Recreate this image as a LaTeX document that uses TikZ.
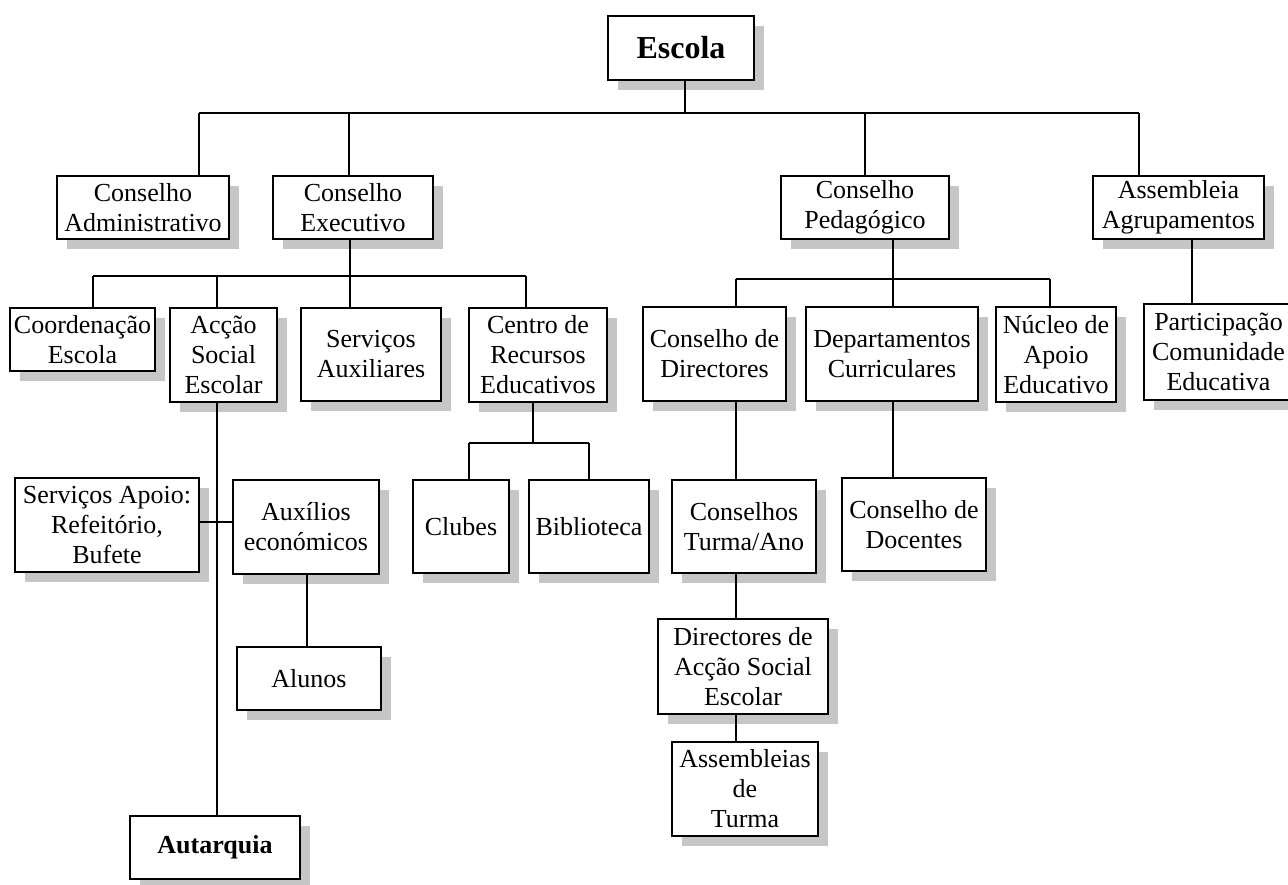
\documentclass[tikz,border=0pt]{standalone}
\usepackage{fontspec}
\setmainfont{Liberation Serif}
\usetikzlibrary{shadows}

\tikzset{
  orgbox/.style={draw, fill=white, line width=1.6pt, align=center, inner sep=0pt,
    font=\fontsize{26}{30}\selectfont,
    drop shadow={shadow xshift=10pt, shadow yshift=-10pt, fill=gray!45, opacity=1}},
  link/.style={line width=1.3pt}
}

\begin{document}
\begin{tikzpicture}[x=1pt, y=-1pt]
  \useasboundingbox (0,0) rectangle (1288,884);
  %the root of the chart
  \node[orgbox, minimum width=146pt, minimum height=64pt, font=\fontsize{32}{36}\selectfont\bfseries] (escola) at (681,48) {Escola};

  %first level: the four councils
  \node[orgbox, minimum width=172pt, minimum height=63pt] (ca) at (143,207.5) {Conselho\\Administrativo};
  \node[orgbox, minimum width=160pt, minimum height=63pt] (ce) at (353,207.5) {Conselho\\Executivo};
  \node[orgbox, minimum width=168pt, minimum height=63pt] (cp) at (865,207.5) {Conselho\\Pedag\'ogico};
  \node[orgbox, minimum width=171pt, minimum height=63pt] (aa) at (1178.5,207.5) {Assembleia\\Agrupamentos};

  %under the executive council
  \node[orgbox, minimum width=145pt, minimum height=63pt] (coord) at (82.5,339.5) {Coordena\c{c}\~ao\\Escola};
  \node[orgbox, minimum width=107pt, minimum height=94pt] (ase) at (223.5,355) {Ac\c{c}\~ao\\Social\\Escolar};
  \node[orgbox, minimum width=140pt, minimum height=93pt] (sa) at (371,354.5) {Servi\c{c}os\\Auxiliares};
  \node[orgbox, minimum width=138pt, minimum height=94pt] (cre) at (538,355) {Centro de\\Recursos\\Educativos};

  %under the pedagogic council
  \node[orgbox, minimum width=143pt, minimum height=94pt] (cd) at (714.5,354) {Conselho de\\Directores};
  \node[orgbox, minimum width=172pt, minimum height=94pt] (dc) at (892,354) {Departamentos\\Curriculares};
  \node[orgbox, minimum width=120pt, minimum height=95pt] (nae) at (1056,354.5) {N\'ucleo de\\Apoio\\Educativo};
  \node[orgbox, minimum width=149pt, minimum height=96pt] (pce) at (1218.5,352) {Participa\c{c}\~ao\\Comunidade\\Educativa};

  %school social action branch
  \node[orgbox, minimum width=184pt, minimum height=94pt] (sap) at (107,525) {Servi\c{c}os Apoio:\\Refeit\'orio,\\Bufete};
  \node[orgbox, minimum width=146pt, minimum height=94pt] (aux) at (306,527) {Aux\'ilios\\econ\'omicos};
  \node[orgbox, minimum width=144pt, minimum height=63pt] (alunos) at (309,678.5) {Alunos};
  \node[orgbox, minimum width=170pt, minimum height=63pt, font=\fontsize{26}{30}\selectfont\bfseries] (autarquia) at (215,847.5) {Autarquia};

  %resource centre
  \node[orgbox, minimum width=96pt, minimum height=93pt] (clubes) at (461,526.5) {Clubes};
  \node[orgbox, minimum width=120pt, minimum height=93pt] (biblio) at (589,526.5) {Biblioteca};

  %class councils
  \node[orgbox, minimum width=144pt, minimum height=93pt] (cta) at (744,526.5) {Conselhos\\Turma/Ano};
  \node[orgbox, minimum width=144pt, minimum height=93pt] (cdoc) at (914,524.5) {Conselho de\\Docentes};
  \node[orgbox, minimum width=170pt, minimum height=95pt] (dase) at (743,666.5) {Directores de\\Ac\c{c}\~ao Social\\Escolar};
  \node[orgbox, minimum width=146pt, minimum height=94pt] (atur) at (745,789) {Assembleias\\de\\Turma};

  %bus under the root
  \coordinate (top) at (685,113);
  \coordinate (top-ca) at (199,113);
  \coordinate (top-ce) at (349,113);
  \coordinate (top-cp) at (865,113);
  \coordinate (top-aa) at (1139,113);
  \draw[link] (top |- escola.south) -- (top);
  \draw[link] (top-ca) -- (top-aa);
  \foreach \n in {ca,ce,cp,aa}
    \draw[link] (top-\n) -- (top-\n |- \n.north);

  %bus under the executive council
  \coordinate (exe) at (350,276);
  \coordinate (exe-coord) at (93,276);
  \coordinate (exe-ase) at (217,276);
  \coordinate (exe-sa) at (350,276);
  \coordinate (exe-cre) at (526,276);
  \draw[link] (exe |- ce.south) -- (exe);
  \draw[link] (exe-coord) -- (exe-cre);
  \foreach \n in {coord,ase,sa,cre}
    \draw[link] (exe-\n) -- (exe-\n |- \n.north);

  %bus under the pedagogic council
  \coordinate (ped) at (893,279);
  \coordinate (ped-cd) at (736,279);
  \coordinate (ped-dc) at (893,279);
  \coordinate (ped-nae) at (1050,279);
  \draw[link] (ped |- cp.south) -- (ped);
  \draw[link] (ped-cd) -- (ped-nae);
  \foreach \n in {cd,dc,nae}
    \draw[link] (ped-\n) -- (ped-\n |- \n.north);

  %assembly to community
  \coordinate (asm) at (1192,0);
  \draw[link] (asm |- aa.south) -- (asm |- pce.north);

  %resource centre bus
  \coordinate (res) at (533,443);
  \coordinate (res-clubes) at (469,443);
  \coordinate (res-biblio) at (589,443);
  \draw[link] (res |- cre.south) -- (res);
  \draw[link] (res-clubes) -- (res-biblio);
  \foreach \n in {clubes,biblio}
    \draw[link] (res-\n) -- (res-\n |- \n.north);

  %social action line down to the municipality
  \coordinate (soc) at (217,0);
  \draw[link] (soc |- ase.south) -- (soc |- autarquia.north);
  \coordinate (side) at (0,522);
  \draw[link] (sap.east |- side) -- (aux.west |- side);
  \coordinate (stu) at (307,0);
  \draw[link] (stu |- aux.south) -- (stu |- alunos.north);

  %class councils chain
  \coordinate (cls) at (736,0);
  \draw[link] (cls |- cd.south) -- (cls |- cta.north);
  \draw[link] (cls |- cta.south) -- (cls |- dase.north);
  \draw[link] (cls |- dase.south) -- (cls |- atur.north);
  \coordinate (doc) at (893,0);
  \draw[link] (doc |- dc.south) -- (doc |- cdoc.north);
\end{tikzpicture}
\end{document}
